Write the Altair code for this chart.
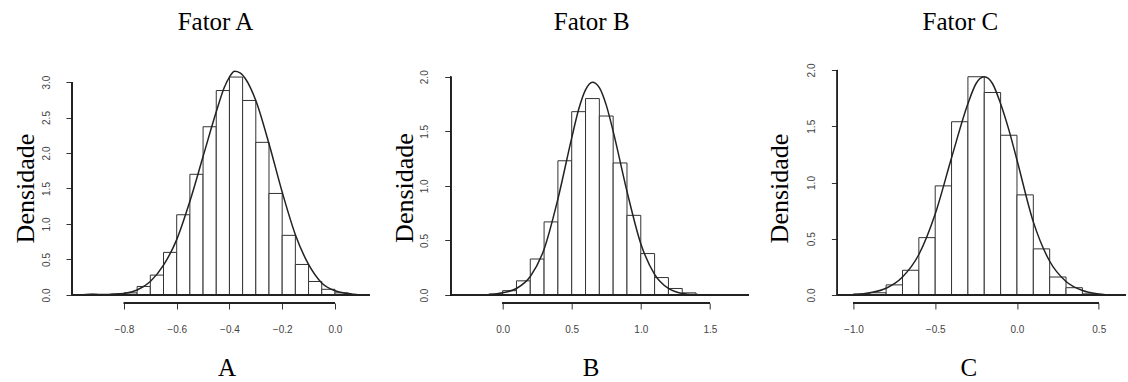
import altair as alt
import pandas as pd

# ---------------- data ----------------
# Fator A : histogram (bin width 0.05) and density curve
a_bin_start = [-0.95, -0.90, -0.85, -0.80, -0.75, -0.70, -0.65, -0.60, -0.55, -0.50,
               -0.45, -0.40, -0.35, -0.30, -0.25, -0.20, -0.15, -0.10, -0.05, 0.00, 0.05]
a_bin_height = [0.01, 0.0, 0.01, 0.03, 0.12, 0.28, 0.60, 1.13, 1.70, 2.37,
                2.88, 3.07, 2.74, 2.15, 1.43, 0.84, 0.43, 0.19, 0.08, 0.03, 0.005]
a_bin_width = 0.05
a_curve_x = [-0.955, -0.92, -0.88, -0.85, -0.80, -0.75, -0.70, -0.65, -0.60, -0.55, -0.50,
             -0.45, -0.42, -0.40, -0.38, -0.36, -0.34, -0.30, -0.25, -0.20, -0.15, -0.10,
             -0.05, 0.00, 0.05, 0.095]
a_curve_y = [0.0, 0.01, 0.005, 0.01, 0.02, 0.07, 0.19, 0.42, 0.78, 1.32, 1.95,
             2.58, 2.92, 3.07, 3.15, 3.13, 3.05, 2.74, 2.13, 1.45, 0.85, 0.43,
             0.17, 0.06, 0.02, 0.0]

# Fator B : histogram (bin width 0.1) and density curve
b_bin_start = [-0.1, 0.0, 0.1, 0.2, 0.3, 0.4, 0.5, 0.6, 0.7, 0.8, 0.9, 1.0, 1.1, 1.2, 1.3, 1.4]
b_bin_height = [0.01, 0.04, 0.13, 0.33, 0.67, 1.23, 1.68, 1.80, 1.64, 1.21, 0.73, 0.38,
                0.16, 0.06, 0.02, 0.005]
b_bin_width = 0.1
b_curve_x = [-0.12, 0.0, 0.1, 0.2, 0.3, 0.4, 0.5, 0.55, 0.6, 0.65, 0.7, 0.75, 0.8, 0.9,
             1.0, 1.1, 1.2, 1.3, 1.4, 1.52]
b_curve_y = [0.0, 0.02, 0.06, 0.17, 0.42, 0.88, 1.44, 1.70, 1.88, 1.95, 1.90, 1.74, 1.50,
             0.95, 0.47, 0.19, 0.06, 0.015, 0.004, 0.0]

# Fator C : histogram (bin width 0.1) and density curve
c_bin_start = [-1.0, -0.9, -0.8, -0.7, -0.6, -0.5, -0.4, -0.3, -0.2, -0.1, 0.0, 0.1, 0.2,
               0.3, 0.4, 0.5]
c_bin_height = [0.01, 0.02, 0.09, 0.22, 0.51, 0.97, 1.54, 1.94, 1.80, 1.42, 0.89, 0.41,
                0.16, 0.065, 0.01, 0.003]
c_bin_width = 0.1
c_curve_x = [-1.01, -0.9, -0.8, -0.7, -0.6, -0.5, -0.4, -0.3, -0.25, -0.2, -0.15, -0.1,
             -0.05, 0.0, 0.1, 0.2, 0.3, 0.4, 0.5, 0.6]
c_curve_y = [0.0, 0.02, 0.06, 0.16, 0.36, 0.72, 1.22, 1.70, 1.88, 1.94, 1.88, 1.70,
             1.47, 1.20, 0.65, 0.30, 0.12, 0.04, 0.01, 0.0]

# axis ticks
a_xticks = [-0.8, -0.6, -0.4, -0.2, 0.0]
b_xticks = [0.0, 0.5, 1.0, 1.5]
c_xticks = [-1.0, -0.5, 0.0, 0.5]
a_yticks = [0.0, 0.5, 1.0, 1.5, 2.0, 2.5, 3.0]
b_yticks = [0.0, 0.5, 1.0, 1.5, 2.0]
c_yticks = [0.0, 0.5, 1.0, 1.5, 2.0]

# plot limits (R "usr" region)
a_xlim = [-0.997, 0.133]
b_xlim = [-0.376, 1.782]
c_xlim = [-1.098, 0.663]
a_ylim = [-0.113, 3.282]
b_ylim = [-0.073, 2.135]
c_ylim = [-0.071, 2.071]

titles = ["Fator A", "Fator B", "Fator C"]
xlabels = ["A", "B", "C"]
ylabel = "Densidade"

# ---------------- styling ----------------
SERIF = "Liberation Serif"
SANS = "Liberation Sans"
INK = "#222222"
PLOT_H = 241
SPACING = 80.7


def panel(bin_start, bin_height, bin_w, cx, cy, xticks, yticks, xlim, ylim,
          width, xdom_right, title, title_dx, xlab, xtitle_x, ytitle_x, ytitle_y):
    bars = pd.DataFrame({
        "x": bin_start,
        "x2": [s + bin_w for s in bin_start],
        "h": bin_height,
    })
    curve = pd.DataFrame({"cx": cx, "cy": cy})

    xscale = alt.Scale(domain=[xlim[0], xdom_right], nice=False, zero=False)
    yscale = alt.Scale(domain=ylim, nice=False, zero=False)

    xaxis = alt.Axis(values=xticks, format=".1f", title=xlab, orient="bottom",
                     tickSize=6, labelPadding=15, titleX=xtitle_x, titleY=72,
                     titleAlign="center", titleBaseline="alphabetic")
    yaxis = alt.Axis(values=yticks, format=".1f", title=ylabel, orient="left",
                     tickSize=6, labelPadding=15, labelAngle=270,
                     labelAlign="center", labelBaseline="bottom",
                     titleX=ytitle_x, titleY=ytitle_y, titleAngle=270,
                     titleAlign="center", titleBaseline="alphabetic",
                     titleFontSize=26)

    hist = alt.Chart(bars).mark_rect(fill="white", stroke="#333333", strokeWidth=1).encode(
        x=alt.X("x:Q", scale=xscale, axis=xaxis, title=xlab),
        x2="x2:Q",
        y=alt.Y("h:Q", scale=yscale, axis=yaxis, title=ylabel),
        y2=alt.Y2Datum(0),
    )
    dens = alt.Chart(curve).mark_line(color=INK, strokeWidth=1.5,
                                      interpolate="monotone").encode(
        x=alt.X("cx:Q", title=xlab),
        y=alt.Y("cy:Q", title=ylabel),
    )
    baseline = alt.Chart(bars).mark_rule(color=INK, strokeWidth=1.2).encode(
        x=alt.XDatum(xlim[0], title=xlab),
        x2=alt.X2Datum(xlim[1]),
        y=alt.YDatum(0, title=ylabel),
    )
    yline = alt.Chart(bars).mark_rule(color=INK, strokeWidth=1).encode(
        x=alt.value(0),
        y=alt.YDatum(yticks[0], title=ylabel),
        y2=alt.Y2Datum(yticks[-1]),
    )
    xline = alt.Chart(bars).mark_rule(color=INK, strokeWidth=1).encode(
        y=alt.value(PLOT_H),
        x=alt.XDatum(xticks[0], title=xlab),
        x2=alt.X2Datum(xticks[-1]),
    )
    return alt.layer(hist, baseline, dens, yline, xline).properties(
        width=width, height=PLOT_H,
        title=alt.TitleParams(text=title, font=SERIF, fontSize=25, fontWeight="normal",
                              color="black", anchor="middle", frame="group",
                              dx=title_dx, offset=7, baseline="alphabetic"),
    )


pA = panel(a_bin_start, a_bin_height, a_bin_width, a_curve_x, a_curve_y,
           a_xticks, a_yticks, a_xlim, a_ylim, 298, a_xlim[1],
           titles[0], -5.5, xlabels[0], 154.5, -39, 126)
pB = panel(b_bin_start, b_bin_height, b_bin_width, b_curve_x, b_curve_y,
           b_xticks, b_yticks, b_xlim, b_ylim, 306, 1.839,
           titles[1], -12, xlabels[1], 140, -38, 125.5)
pC = panel(c_bin_start, c_bin_height, c_bin_width, c_curve_x, c_curve_y,
           c_xticks, c_yticks, c_xlim, c_ylim, 288, c_xlim[1],
           titles[2], -21, xlabels[2], 131, -50, 126)

chart = alt.hconcat(pA, pB, pC, spacing=SPACING, bounds="flush").properties(
    padding={"left": 12, "top": 10, "right": 0, "bottom": 0},
    background="white",
).configure_view(stroke=None).configure_axis(
    grid=False, domain=False, tickColor="#333333", tickWidth=1,
    labelFont=SANS, labelFontSize=10, labelColor="#444444",
    titleFont=SERIF, titleFontSize=25, titleFontWeight="normal", titleColor="black",
)

chart.save("out.html", embed_options={"renderer": "svg", "actions": False})
